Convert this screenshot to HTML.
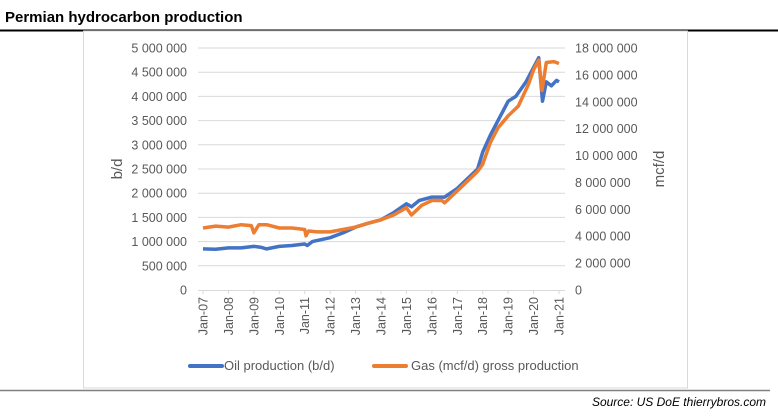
<!DOCTYPE html>
<html><head><meta charset="utf-8"><style>
body{margin:0;width:778px;height:412px;background:#fff;overflow:hidden;font-family:"Liberation Sans",sans-serif}
</style></head><body>
<svg id="s" width="778" height="412" xmlns="http://www.w3.org/2000/svg" font-family="Liberation Sans, sans-serif">
<text x="5" y="22" font-size="15" font-weight="bold" fill="#000">Permian hydrocarbon production</text>
<line x1="0" y1="30.5" x2="778" y2="30.5" stroke="#000" stroke-width="2"/>
<rect x="83.5" y="31" width="604" height="357" fill="none" stroke="#d9d9d9"/>
<line x1="0" y1="390.5" x2="770" y2="390.5" stroke="#808080" stroke-width="1.5"/>
<text x="766" y="406" font-size="12" font-style="italic" text-anchor="end" fill="#000">Source: US DoE thierrybros.com</text>
<g id="g"></g>
<text transform="translate(122,169) rotate(-90)" font-size="15" fill="#595959" text-anchor="middle">b/d</text>
<text transform="translate(664,169) rotate(-90)" font-size="15" fill="#595959" text-anchor="middle">mcf/d</text>
<line x1="190" y1="366" x2="222" y2="366" stroke="#4472c4" stroke-width="4" stroke-linecap="round"/>
<text x="224" y="370" font-size="13" fill="#595959">Oil production (b/d)</text>
<line x1="374" y1="366" x2="406" y2="366" stroke="#ed7d31" stroke-width="4" stroke-linecap="round"/>
<text x="411" y="370" font-size="13" fill="#595959">Gas (mcf/d) gross production</text>
</svg>
<script>
var g=document.getElementById('g'),h='';
function Y(v){return 290-v*48.4;}
function X(t){return 203+(t-2007)*25.43;}
var lt=['0','500 000','1 000 000','1 500 000','2 000 000','2 500 000','3 000 000','3 500 000','4 000 000','4 500 000','5 000 000'];
for(var i=0;i<=10;i++){var y=Y(i/2);
if(i>0)h+='<line x1="198" y1="'+y+'" x2="565" y2="'+y+'" stroke="#d9d9d9"/>';
h+='<text x="187" y="'+(y+4.5)+'" font-size="12.5" text-anchor="end" fill="#595959">'+lt[i]+'</text>';}
h+='<line x1="198" y1="290.5" x2="565" y2="290.5" stroke="#d9d9d9"/>';
for(var j=0;j<=9;j++){var y=290-j*2*13.444;var s=j==0?'0':(2*j)+' 000 000';
h+='<text x="575" y="'+(y+4.5)+'" font-size="12.5" fill="#595959">'+s+'</text>';}
for(var k=0;k<=14;k++){var x=X(2007+k);
h+='<line x1="'+x+'" y1="290" x2="'+x+'" y2="294" stroke="#d9d9d9"/>';
h+='<text transform="translate('+(x+4.5)+',297) rotate(-90)" font-size="12.5" text-anchor="end" fill="#595959">Jan-'+(k<3?'0'+(7+k):(7+k))+'</text>';}
var oil=[[2007,.85],[2007.5,.84],[2008,.87],[2008.5,.87],[2009,.9],[2009.3,.88],[2009.5,.85],[2010,.9],[2010.5,.92],[2011,.95],[2011.1,.92],[2011.3,1],[2012,1.08],[2012.5,1.18],[2013,1.3],[2013.5,1.38],[2014,1.45],[2014.5,1.6],[2015,1.78],[2015.2,1.72],[2015.5,1.85],[2016,1.92],[2016.5,1.92],[2017,2.1],[2017.5,2.35],[2017.8,2.5],[2018,2.85],[2018.3,3.2],[2018.6,3.5],[2019,3.9],[2019.3,4],[2019.7,4.3],[2020,4.6],[2020.2,4.8],[2020.35,3.9],[2020.5,4.3],[2020.7,4.22],[2020.9,4.33],[2021,4.3]];
var gas=[[2007,1.28],[2007.5,1.32],[2008,1.3],[2008.5,1.35],[2008.9,1.33],[2009,1.18],[2009.2,1.35],[2009.5,1.35],[2010,1.28],[2010.5,1.28],[2011,1.25],[2011.05,1.12],[2011.15,1.22],[2011.5,1.2],[2012,1.2],[2012.5,1.25],[2013,1.3],[2013.5,1.38],[2014,1.45],[2014.5,1.55],[2015,1.7],[2015.2,1.55],[2015.6,1.75],[2016,1.85],[2016.4,1.85],[2016.5,1.8],[2017,2.05],[2017.5,2.3],[2017.8,2.45],[2018,2.6],[2018.3,3.05],[2018.6,3.35],[2019,3.6],[2019.4,3.8],[2019.8,4.25],[2020,4.55],[2020.2,4.75],[2020.33,4.12],[2020.5,4.7],[2020.8,4.72],[2021,4.68]];
function pl(d,c){return '<polyline fill="none" stroke="'+c+'" stroke-width="3.5" stroke-linejoin="round" points="'+d.map(function(p){return X(p[0]).toFixed(1)+','+Y(p[1]).toFixed(1)}).join(' ')+'"/>';}
h+=pl(oil,'#4472c4')+pl(gas,'#ed7d31');
g.innerHTML=h;
</script>
</body></html>
